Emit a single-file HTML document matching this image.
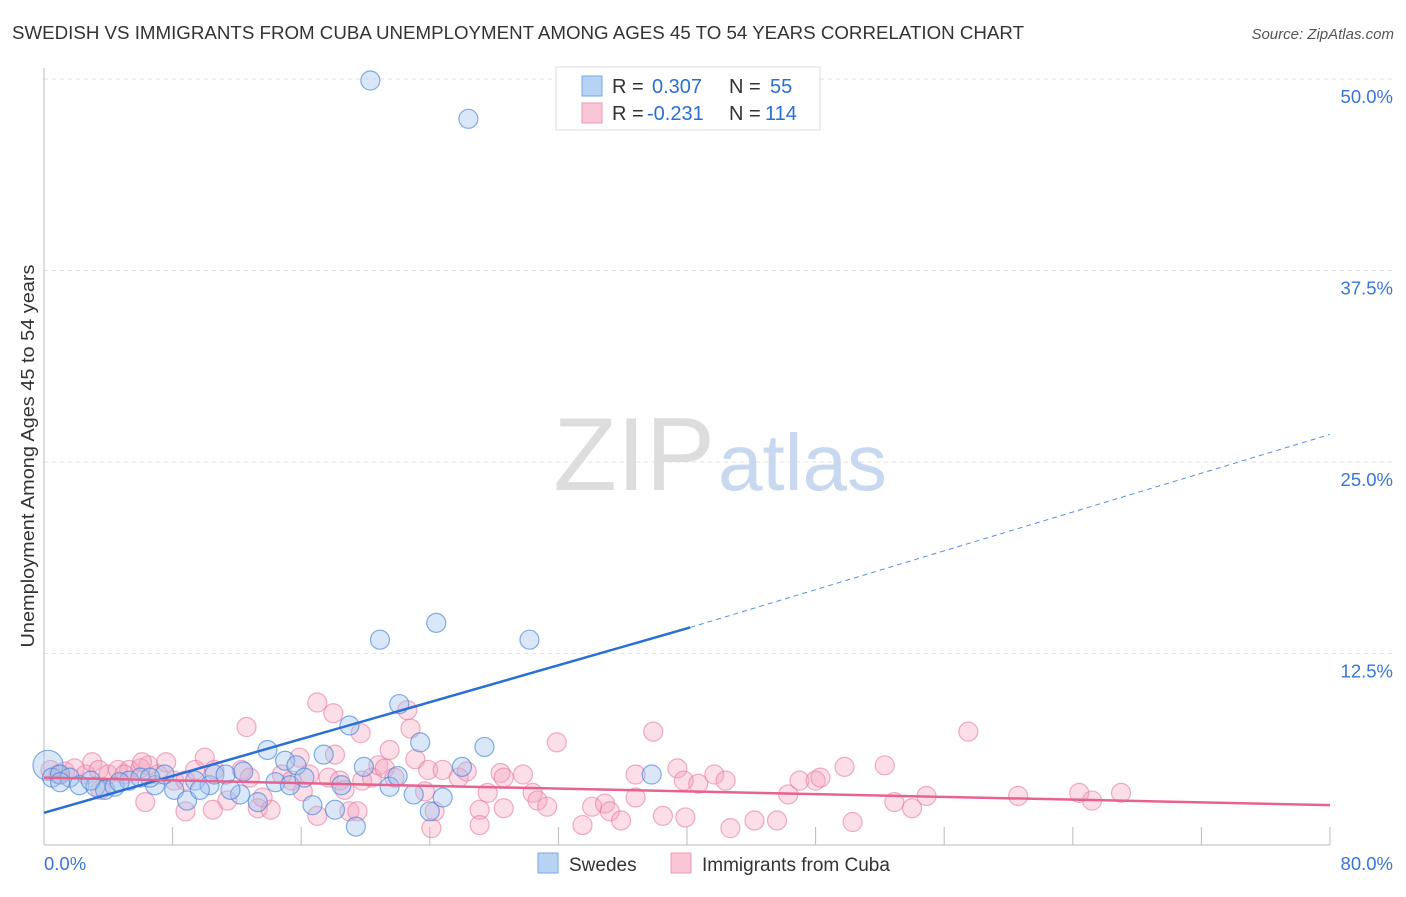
<!DOCTYPE html>
<html><head><meta charset="utf-8"><style>
body{margin:0;background:#fff;font-family:"Liberation Sans",sans-serif;}
svg text{font-family:"Liberation Sans",sans-serif;}
</style></head><body>
<svg id="chart" width="1406" height="892" xmlns="http://www.w3.org/2000/svg">
<text x="12" y="39" font-size="18.6" fill="#333" textLength="1012" lengthAdjust="spacingAndGlyphs">SWEDISH VS IMMIGRANTS FROM CUBA UNEMPLOYMENT AMONG AGES 45 TO 54 YEARS CORRELATION CHART</text>
<text x="1394" y="39" font-size="15" fill="#555" font-style="italic" text-anchor="end">Source: ZipAtlas.com</text>
<g id="grid"></g>
<text x="715" y="490" font-size="104" fill="#ddd" font-family="Liberation Serif" text-anchor="end">ZIP</text>
<text x="718" y="490" font-size="80" fill="#c8d8f0">atlas</text>
<g id="marks"></g>
<text x="34" y="456" font-size="18" fill="#333" text-anchor="middle" textLength="383" lengthAdjust="spacingAndGlyphs" transform="rotate(-90 34 456)">Unemployment Among Ages 45 to 54 years</text>
<g>
<rect x="556" y="67" width="264" height="63" fill="#fff" stroke="#ddd"/>
<rect x="582" y="76" width="20" height="20" fill="#b8d2f4" stroke="#7aa6e4"/>
<rect x="582" y="103" width="20" height="20" fill="#f9c6d6" stroke="#ee9ab6"/>
<g font-size="20">
<text x="612" y="93" fill="#333">R =</text><text x="652" y="93" fill="#2a6fd6">0.307</text>
<text x="729" y="93" fill="#333">N =</text><text x="770" y="93" fill="#2a6fd6">55</text></g>
<g font-size="20">
<text x="612" y="120" fill="#333">R =</text><text x="647" y="120" fill="#2a6fd6">-0.231</text>
<text x="729" y="120" fill="#333">N =</text><text x="765" y="120" fill="#2a6fd6">114</text></g>
</g>
<g>
<rect x="538" y="853" width="20" height="20" fill="#b8d2f4" stroke="#7aa6e4"/>
<text x="569" y="871" font-size="19" fill="#333">Swedes</text>
<rect x="671" y="853" width="20" height="20" fill="#f9c6d6" stroke="#ee9ab6"/>
<text x="702" y="871" font-size="19" fill="#333">Immigrants from Cuba</text>
</g>
</svg>
<script>
const yTicks=[12.5,25,37.5,50];
const yTickLabels=["12.5%","25.0%","37.5%","50.0%"];
const xTickLabels=["0.0%","80.0%"];
const blueX=[0.25,0.5,1.0,1.6,2.2,3.2,3.8,4.4,5.3,6.0,6.9,7.5,8.1,8.9,9.4,10.3,10.6,11.3,12.2,12.4,13.3,13.9,14.4,15.0,15.3,15.7,16.2,16.7,17.4,18.1,18.5,19.0,19.4,19.9,20.9,21.5,22.0,22.1,23.0,23.4,24.0,24.4,24.8,26.0,27.4,30.2,37.8,20.3,26.4,4.7,9.7,2.9,6.6,1.0,11.6];
const blueY=[5.2,4.4,4.6,4.4,3.9,3.8,3.6,3.8,4.2,4.4,3.9,4.6,3.6,2.9,4.2,3.9,4.6,4.6,3.3,4.8,2.8,6.2,4.1,5.5,3.9,5.2,4.4,2.6,5.9,2.3,3.9,7.8,1.2,5.1,13.4,3.8,4.5,9.2,3.3,6.7,2.2,14.5,3.1,5.1,6.4,13.4,4.6,49.9,47.4,4.1,3.6,4.2,4.4,4.1,3.6];
const pinkX=[0.4,0.9,1.3,1.9,2.6,3.0,3.4,4.0,4.6,5.3,6.0,6.5,7.1,7.6,8.1,8.8,9.4,10.0,10.6,12.6,12.3,12.8,13.3,14.1,14.8,15.4,15.9,16.1,16.5,17.0,17.7,18.1,18.4,18.7,19.0,19.5,19.8,20.4,20.8,21.2,21.5,21.8,22.6,22.8,23.1,23.7,23.9,24.1,24.3,24.8,25.8,26.3,27.1,27.1,27.6,28.4,28.6,17.0,18.0,19.7,13.6,11.4,10.5,8.8,6.3,6.1,5.0,3.5,28.6,29.8,30.4,30.7,31.3,31.9,33.5,34.1,34.9,35.2,35.9,36.8,36.8,38.5,37.9,39.4,39.8,39.9,40.7,41.7,42.4,42.7,44.2,45.6,46.3,47.0,48.0,48.3,49.8,50.3,52.3,52.9,54.0,54.9,57.5,60.6,64.4,65.2,67.0];
const pinkY=[4.9,4.6,4.8,5.0,4.6,5.4,4.9,4.6,4.9,4.9,5.0,5.2,4.6,5.4,4.2,4.2,4.9,5.7,4.9,7.7,4.9,4.4,2.4,2.3,4.6,4.2,5.7,3.5,4.6,1.9,4.4,5.9,4.2,3.6,2.2,2.2,4.2,4.4,5.2,5.0,6.2,4.4,8.8,7.6,5.6,3.5,4.9,1.1,2.2,4.9,4.4,4.8,2.3,1.3,3.4,4.7,2.4,9.3,8.6,7.3,3.1,2.9,2.3,2.2,2.8,5.4,4.6,3.6,4.4,4.6,3.4,2.9,2.5,6.7,1.3,2.5,2.7,2.2,1.6,4.6,3.1,1.9,7.4,5.0,4.2,1.8,4.0,4.6,4.2,1.1,1.6,1.6,3.3,4.2,4.2,4.4,5.1,1.5,5.2,2.8,2.4,3.2,7.4,3.2,3.4,2.9,3.4];
const blueTrend=[2.1,14.2,26.8];
const blueTrendX=[0,40.2,80];
const pinkTrend=[4.4,2.6];
const pinkTrendX=[0,80];

const NS="http://www.w3.org/2000/svg";
const X0=44,X1=1330,Y0=845,YPER=15.32;
function sx(v){return X0+v*(X1-X0)/80;}
function sy(v){return Y0-v*YPER;}
function mk(tag,attrs,parent){const e=document.createElementNS(NS,tag);for(const k in attrs)e.setAttribute(k,attrs[k]);parent.appendChild(e);return e;}
const grid=document.getElementById('grid');
const marks=document.getElementById('marks');
yTicks.forEach((t,i)=>{
  const l=mk('line',{x1:X0,x2:1394,y1:sy(t),y2:sy(t),stroke:'#e2e2e2','stroke-dasharray':'4,4'},grid);
  
  
  const tx=mk('text',{x:1393,y:sy(t)+24,'font-size':18.5,fill:'#3a74d8','text-anchor':'end'},grid);
  tx.textContent=yTickLabels[i];
  
  
});
const ax=mk('line',{x1:X0,x2:X0,y1:68,y2:Y0,stroke:'#bbb'},grid);


const bx=mk('line',{x1:X0,x2:X1,y1:Y0,y2:Y0,stroke:'#bbb'},grid);


for(let i=1;i<=10;i++){
  const t=mk('line',{x1:sx(i*8),x2:sx(i*8),y1:Y0-18,y2:Y0,stroke:'#bbb'},grid);
  
  
}
const xl0=mk('text',{x:44,y:870,'font-size':18.5,fill:'#3a74d8'},grid);xl0.textContent=xTickLabels[0];


const xl1=mk('text',{x:1393,y:870,'font-size':18.5,fill:'#3a74d8','text-anchor':'end'},grid);xl1.textContent=xTickLabels[1];



pinkX.forEach((x,i)=>{
  const c=mk('circle',{cx:sx(x),cy:sy(pinkY[i]),r:9.5,fill:'rgba(244,160,188,0.35)',stroke:'rgba(232,120,158,0.6)','stroke-width':1.2},marks);
  
  
});
blueX.forEach((x,i)=>{
  const c=mk('circle',{cx:sx(x),cy:sy(blueY[i]),r:i===0?15:9.5,fill:'rgba(160,196,240,0.4)',stroke:'rgba(70,130,215,0.65)','stroke-width':1.2},marks);
  
  
});
const bl=mk('line',{x1:sx(blueTrendX[0]),y1:sy(blueTrend[0]),x2:sx(blueTrendX[1]),y2:sy(blueTrend[1]),stroke:'#2a6fd6','stroke-width':2.5},marks);


const bd=mk('line',{x1:sx(blueTrendX[1]),y1:sy(blueTrend[1]),x2:sx(blueTrendX[2]),y2:sy(blueTrend[2]),stroke:'#5a8fe0','stroke-width':1,'stroke-dasharray':'5,4'},marks);


const pl=mk('line',{x1:sx(pinkTrendX[0]),y1:sy(pinkTrend[0]),x2:sx(pinkTrendX[1]),y2:sy(pinkTrend[1]),stroke:'#e8628f','stroke-width':2.5},marks);


</script>
</body></html>
